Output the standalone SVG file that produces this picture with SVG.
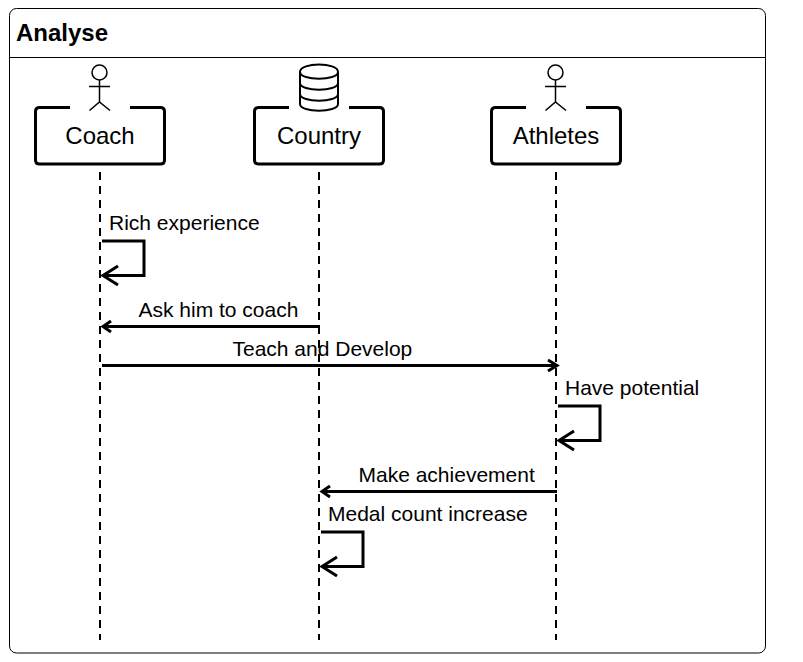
<svg xmlns="http://www.w3.org/2000/svg" width="803" height="662" viewBox="0 0 803 662">
<style>
text{font-family:"Liberation Sans",Arial,sans-serif;fill:#000}
.name{font-size:24px;text-anchor:middle}
.lab{font-size:21px}
.box{fill:none;stroke:#000;stroke-width:3}
.thin{fill:none;stroke:#000;stroke-width:1.500}
.life{fill:none;stroke:#000;stroke-width:2;stroke-dasharray:8 6}
.msg{fill:none;stroke:#000;stroke-width:3}
.head{fill:none;stroke:#000;stroke-width:3}
.shead{fill:none;stroke:#000;stroke-width:3}
</style>
<rect width="803" height="662" fill="#fff"/>
<g id="frame">
<rect x="9.5" y="8.5" width="756" height="644.5" rx="7" fill="#fff" stroke="#000" stroke-width="1"/>
<path d="M9.5 57.5H765.5" fill="none" stroke="#000" stroke-width="1"/>
<text x="16" y="41" font-size="24" font-weight="bold">Analyse</text>
</g>
<g id="connectors">
<path class="life" d="M100 172V640"/>
<path class="life" d="M319 172V640"/>
<path class="life" d="M556 172V640"/>
<path class="msg" d="M102 241H144V275.500H104"/>
<path class="shead" d="M118 266L103 275.500L118 285"/>
<path class="msg" d="M320 326.500H104"/>
<path class="head" d="M111 321L103 326.500L111 332"/>
<path class="msg" d="M102 365.500H555"/>
<path class="head" d="M548 360L557 365.500L548 371"/>
<path class="msg" d="M558 406H600V440.500H560"/>
<path class="shead" d="M574 431L559 440.500L574 450"/>
<path class="msg" d="M557 491.500H323"/>
<path class="head" d="M330 486L322 491.500L330 497"/>
<path class="msg" d="M321 532H363V566.500H323"/>
<path class="shead" d="M337 557L322 566.500L337 576"/>
</g>
<g id="coach">
<path class="box" d="M70 107.500H39.500Q35.500 107.500 35.500 111.500V160Q35.500 164 39.500 164H160.500Q164.500 164 164.500 160V111.500Q164.500 107.500 160.500 107.500H130"/>
<circle class="thin" cx="99.500" cy="72.500" r="7.500"/>
<path class="thin" d="M99.500 80V102M89 86.500H110M89.500 110.500L99.500 102L110 110.500"/>
<text class="name" x="100" y="144">Coach</text>
</g>
<g id="country">
<path class="box" d="M289 107.500H258.500Q254.500 107.500 254.500 111.500V160Q254.500 164 258.500 164H379.500Q383.500 164 383.500 160V111.500Q383.500 107.500 379.500 107.500H349"/>
<path class="box" d="M300 72V104C300 113 338 113 338 104V72M300 72C300 62 338 62 338 72C338 81 300 81 300 72M300 83C300 92 338 92 338 83M300 94C300 103 338 103 338 94" style="stroke-width:2"/>
<text class="name" x="319" y="144">Country</text>
</g>
<g id="athletes">
<path class="box" d="M526 107.500H495.500Q491.500 107.500 491.500 111.500V160Q491.500 164 495.500 164H616.500Q620.500 164 620.500 160V111.500Q620.500 107.500 616.500 107.500H586"/>
<circle class="thin" cx="555.500" cy="72.500" r="7.500"/>
<path class="thin" d="M555.500 80V102M545 86.500H566M545.500 110.500L555.500 102L566 110.500"/>
<text class="name" x="556" y="144">Athletes</text>
</g>
<g id="labels">
<text class="lab" x="109" y="230">Rich experience</text>
<text class="lab" x="138.500" y="317">Ask him to coach</text>
<text class="lab" x="232.500" y="356">Teach and Develop</text>
<text class="lab" x="565" y="395">Have potential</text>
<text class="lab" x="358.500" y="482">Make achievement</text>
<text class="lab" x="328" y="521">Medal count increase</text>
</g>
</svg>
